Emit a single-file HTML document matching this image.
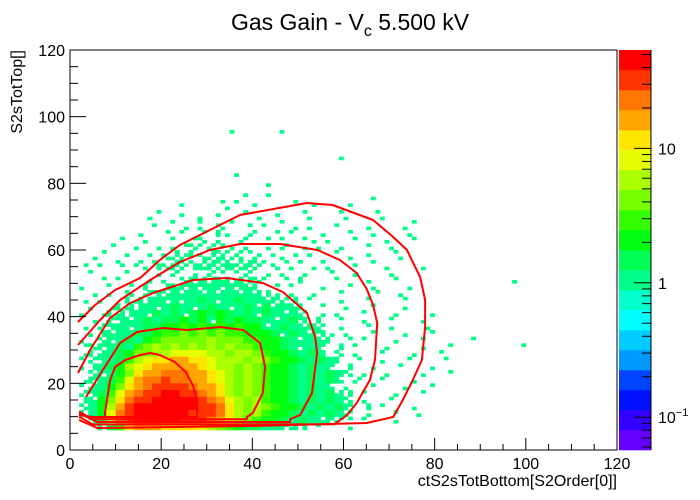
<!DOCTYPE html>
<html><head><meta charset="utf-8"><style>
html,body{margin:0;padding:0;background:#fff;}
svg{display:block;font-family:"Liberation Sans",Arial,sans-serif;}
</style></head><body>
<svg id="chart" width="700" height="500" viewBox="0 0 700 500" xmlns="http://www.w3.org/2000/svg">
<rect x="0" y="0" width="700" height="500" fill="#fff"/>
<g id="cells"></g>
<g id="contours"></g>
<rect x="70" y="50" width="547" height="400" fill="none" stroke="#000" stroke-width="1"/>
<g id="axes"></g>
<g id="cbar"></g>
<text x="350" y="30" text-anchor="middle" font-size="23">Gas Gain - V<tspan font-size="16" dy="6">c</tspan><tspan dy="-6"> 5.500 kV</tspan></text>
<text x="617" y="486" text-anchor="end" font-size="16">ctS2sTotBottom[S2Order[0]]</text>
<text transform="translate(22,50) rotate(-90)" text-anchor="end" font-size="16">S2sTotTop[]</text>
</svg>
<script>
// ---- data ----
const xTicks = [0, 20, 40, 60, 80, 100, 120];
const yTicks = [0, 20, 40, 60, 80, 100, 120];
const zTickLabels = [0.1, 1, 10];
const zMin = 0.057, zMax = 54;
// block counts (2x2 units) - code map
const codeValues = {'.':0,'1':1,'2':2,'3':3,'4':4,'5':6,'6':8,'7':12,'8':16,'9':24,'a':32,'b':48,'c':64,'d':96,'e':128,'f':180};
// rows from y=94 down to y=6 (step 2), columns x=0..98 (step 2)
const rowY = [94,92,90,88,86,84,82,80,78,76,74,72,70,68,66,64,62,60,58,56,54,52,50,48,46,44,42,40,38,36,34,32,30,28,26,24,22,20,18,16,14,12,10,8,6];
const rows = [
".................1.....1..........................",
"..................................................",
"..................................................",
"..................................................",
".............................1....................",
"..................................................",
"..................1...............................",
"..................................................",
".....................1............................",
"...................1.1............................",
"................1.1.....1........1................",
"............1....1..1.....1...1...................",
".........1..1...1..1..1..1...1...1................",
"........1..1..2..1..1..1..1...1...1..1............",
".........1..1.1.2..1.1..1.1..1..1...1.............",
".......1..1.1.1.21.11.1.1..1..1..1...1............",
".....1..1..1.12.1.11.1.1.11.1..1..1..1............",
"....1..1.1.1121211.1.1.2.1.1.1..1..1..............",
"...1..1.1.12121221211.1.1.1..1..1..1..............",
"..1..1.1.1122122322121.2.1.1..1..1..1.............",
".1.1.1.11223223324232.2.1.1.1..1..1...1...........",
"..1...1..1.2.1.21.12.1.1.1..1..1...1..............",
"...1.1..1.1.2332323221.1.2...1..1..1............1.",
".1..1.1.2.23343434332.1.1..1..1..1...1............",
"..1.1.2.232434343434321.1.1..1...1..1.............",
".1.1..2324343454345443322.1..1..1...1.............",
"..1.1232434543454345353432.1..1..1..1.............",
".1.12324354535656545354342.1.1..1..1...1..........",
"..1.2334545565636565543453.2.1..1..1..1...........",
".1.2343455667676767663454342.1..1..1...1..........",
"..123445567787878776665354331.1..1..1..1..........",
".1.23454678888898887766543432.1.1..1..1.....1.....",
".123454789898989898876654343.2.1..1...1..1.......1",
".1234568899aaaa9989987665454.2.1..1..1..1.........",
".1234579abbccbba99989876654542.1..1..1...1........",
".124569abcccccba9989876654543.2..1..1..1..........",
"..23468bccdddccba98987665454542.1.1...1..1........",
".13457acddeddccba9898766545453.2..1..1............",
".13468bcdeeeedccb989876654543.1..1..1..1..........",
".2357acdeeffeedcb98987665454532.1..1..1...........",
".2368bdeefffffedca9897665454542.1..1..............",
".2469cefffffffeedb9898766545453.2.1..1...........",
".246adeffffffeeedb9897665454542.1..1..1...........",
"..35adefffffeeedcb9876654543321.1..1..............",
"...257bcccbbbba98765544332.1..1.................."
];
// contour polylines (data coordinates)
const contour1 = [[2,10.5],[5,9.9],[7.7,9.9],[7.7,11.4],[8.8,21],[9.9,24.9],[12.1,27],[15.4,28.5],[17.6,29.1],[19.7,28.5],[23,26.4],[25.4,23.4],[27,19.2],[27.9,15],[27.9,11.4],[27.9,9.9],[7.7,9.9]];
const contour2 = [[3.5,15.9],[7.2,24],[11,32.1],[14.7,35.4],[20.4,36.6],[25.7,36],[30.7,36.6],[32.9,36.9],[38,36],[41.7,32.1],[42.8,24.9],[42.3,17.1],[40.1,11.1],[38.8,9.9],[38.8,9.2],[5,9.2],[2,11.5]];
const contour3 = [[1.75,23.1],[4.4,30],[8.8,39.6],[13.2,44.1],[18.2,47.1],[27,51],[34.4,51.6],[42.3,50.1],[46.7,47.4],[52,41.1],[53.8,33.9],[54.2,29.1],[53.1,17.1],[50.5,10.5],[48.3,9.3],[48.3,8.4],[6,8.4],[2,11]];
const contour4 = [[1.75,31.5],[6.6,39],[11,45],[17.6,51],[24.1,56.4],[30.7,60],[37.3,61.8],[46.1,61.8],[54.3,60],[59.2,57],[62.9,53.1],[65.1,48.3],[66.5,43.5],[67.4,38.1],[66.9,27],[65.8,21],[62.9,14.1],[60.8,10.5],[58,7.7],[5,7.65],[2,10]];
const contour5 = [[1.75,38.4],[5.5,43.5],[9.9,48],[15.4,51.6],[19.7,57],[24.1,61.5],[30.7,66],[37.3,70.5],[52,74.1],[57.6,73.5],[66.5,69],[70.9,63.9],[73.9,60],[76.8,51.9],[77.9,45],[77.9,36.9],[77.2,27],[75.2,21],[73,15],[70.9,9.9],[65.1,8.1],[40,7.2],[6,6.6],[2,9]];
const contours = [contour1, contour2, contour3, contour4, contour5];

// ---- scales ----
const NS = "http://www.w3.org/2000/svg";
const X = v => 70 + v * 547 / 120;
const Y = v => 450 - v * 400 / 120;
const lmin = Math.log10(zMin), lmax = Math.log10(zMax);
const palette = ['#6600ff','#3300ff','#0011ff','#0044ff','#0099ff','#00ccff','#00ffff','#00ffcc','#00ff88','#00ff55','#00ff11','#33ff00','#77ff00','#aaff00','#e6ff00','#ffe600','#ffa500','#ff7700','#ff3300','#ff0000'];
const Z = v => 450 - (Math.log10(v) - lmin) / (lmax - lmin) * 400;
function colorOf(v) {
  let b = Math.floor((Math.log10(v) - lmin) / (lmax - lmin) * 20);
  b = Math.max(0, Math.min(19, b));
  return palette[b];
}
function mk(tag, attrs, parent) {
  const e = document.createElementNS(NS, tag);
  for (const k in attrs) e.setAttribute(k, attrs[k]);
  parent.appendChild(e);
  return e;
}

// ---- heatmap ----
const gCells = document.getElementById('cells');
const subPos = [[0,0],[1,1],[1,0],[0,1]];
rows.forEach((row, r) => {
  const s = row.padEnd(50, '.').slice(0, 50);
  for (let c = 0; c < 50; c++) {
    const v = codeValues[s[c]] || 0;
    if (!v) continue;
    const x0 = 2 * c, y0 = rowY[r];
    if (v >= 4) {
      const e = mk('rect', {x: X(x0), y: Y(y0 + 2), width: X(x0 + 2) - X(x0) + 0.3, height: Y(y0) - Y(y0 + 2) + 0.3, fill: colorOf(v / 4)}, gCells);
      
      
    } else {
      for (let k = 0; k < v; k++) {
        const p = subPos[(k + r + c) % 4];
        const bx = x0 + p[0], by = y0 + p[1];
        const e = mk('rect', {x: X(bx), y: Y(by + 1), width: X(bx + 1) - X(bx) + 0.3, height: Y(by) - Y(by + 1) + 0.3, fill: colorOf(1)}, gCells);
        
        
      }
    }
  }
});

// ---- contours ----
const gCont = document.getElementById('contours');
contours.forEach((pts, i) => {
  const e = mk('polyline', {points: pts.map(p => X(p[0]).toFixed(1) + ',' + Y(p[1]).toFixed(1)).join(' '), fill: 'none', stroke: '#ff0000', 'stroke-width': 2, 'stroke-linejoin': 'round'}, gCont);
  
  
});

// ---- axes ----
const gAx = document.getElementById('axes');
for (let v = 0; v <= 120; v += 5) {
  const major = v % 20 === 0;
  const t = mk('line', {x1: X(v), x2: X(v), y1: 450, y2: 450 - (major ? 12 : 6), stroke: '#000', 'stroke-width': 1}, gAx);
  
  
  const u = mk('line', {x1: 70, x2: 70 + (major ? 16 : 8), y1: Y(v), y2: Y(v), stroke: '#000', 'stroke-width': 1}, gAx);
  
  
}
xTicks.forEach(v => {
  const t = mk('text', {x: X(v), y: 469, 'text-anchor': 'middle', 'font-size': 16}, gAx);
  t.textContent = v;
  
  
});
yTicks.forEach(v => {
  const t = mk('text', {x: 65, y: Y(v) + 6, 'text-anchor': 'end', 'font-size': 16}, gAx);
  t.textContent = v;
  
  
});

// ---- color bar ----
const gCb = document.getElementById('cbar');
palette.forEach((col, k) => {
  const e = mk('rect', {x: 619, y: 450 - 20 * (k + 1), width: 32, height: 20.3, fill: col}, gCb);
  
  
});
mk('line', {x1: 651, x2: 651, y1: 50, y2: 450, stroke: '#000', 'stroke-width': 1}, gCb);
[0.01, 0.1, 1, 10].forEach(dec => {
  for (let m = 1; m <= 9; m++) {
    const v = dec * m;
    if (v < zMin || v > zMax) continue;
    const y = Z(v);
    const e = mk('line', {x1: 651, x2: 651 - (m === 1 ? 17 : 9), y1: y, y2: y, stroke: '#000', 'stroke-width': 1}, gCb);
    
    
  }
});
zTickLabels.forEach(v => {
  const t = mk('text', {x: 658, y: Z(v) + 6, 'font-size': 16}, gCb);
  if (v < 1) { t.innerHTML = '10<tspan font-size="11" dy="-7">−1</tspan>'; }
  else t.textContent = v;
  
  
});
</script>
</body></html>
